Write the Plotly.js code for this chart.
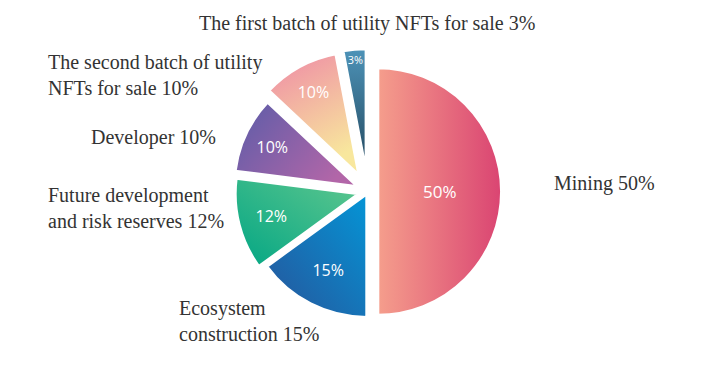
<!DOCTYPE html>
<html><head><meta charset="utf-8">
<script src="https://cdn.plot.ly/plotly-3.0.1.min.js"></script>
<style>html,body{margin:0;padding:0;background:#fff}#chart{width:720px;height:392px}</style>
</head><body><div id="chart"></div>
<script>
const categories = ["Mining", "Ecosystem construction", "Future development and risk reserves", "Developer", "The second batch of utility NFTs for sale", "The first batch of utility NFTs for sale"];
const shares = [50, 15, 12, 10, 10, 3];
const sliceColors = ["#E8717F", "#1577BA", "#17AE88", "#8261A8", "#F3B4A3", "#3A6F8F"];
const pulls = [0.08, 0.02, 0.075, 0.09, 0.15, 0.155];
const labelTexts = [
  "Mining 50%",
  "Ecosystem<br>construction 15%",
  "Future development<br>and risk reserves 12%",
  "Developer 10%",
  "The second batch of utility<br>NFTs for sale 10%",
  "The first batch of utility NFTs for sale 3%"
];
// gradient stops per slice: [x1,y1,x2,y2, startColor, endColor]
const gradients = [
  [0, 0, 1, 0, "#F59E8C", "#DA4472"],
  [0, 1, 1, 0, "#27549A", "#0495D6"],
  [0, 1, 1, 0, "#02A684", "#5FC78E"],
  [0, 0, 1, 0.6, "#5A5CA8", "#B266A8"],
  [0, 0, 0.4, 1, "#EE88A6", "#F8E79D"],
  [0, 0, 0, 1, "#4D93B8", "#22465C"]
];

const trace = {
  type: "pie",
  labels: categories,
  values: shares,
  sort: false,
  direction: "clockwise",
  rotation: 0,
  pull: pulls,
  marker: {colors: sliceColors, line: {color: "#ffffff", width: 3}},
  texttemplate: "%{value}%",
  textposition: "inside",
  insidetextorientation: "horizontal",
  textfont: {family: "Open Sans, sans-serif", color: "#ffffff", size: [17, 16, 16, 16, 16, 11]},
  hoverinfo: "label+value",
  domain: {x: [0.3125, 0.7095], y: [0.146, 0.877]},
  showlegend: false
};

const lf = {family: "Liberation Serif, serif", size: 20, color: "#333333"};
const annotations = [
  {x: 552/720, y: 1 - 183/392, xanchor: "left", yanchor: "middle", align: "left", text: labelTexts[0]},
  {x: 177/720, y: 1 - 321/392, xanchor: "left", yanchor: "middle", align: "left", text: labelTexts[1]},
  {x: 46/720, y: 1 - 208/392, xanchor: "left", yanchor: "middle", align: "left", text: labelTexts[2]},
  {x: 218/720, y: 1 - 137/392, xanchor: "right", yanchor: "middle", align: "right", text: labelTexts[3]},
  {x: 46/720, y: 1 - 75/392, xanchor: "left", yanchor: "middle", align: "left", text: labelTexts[4]},
  {x: 367/720, y: 1 - 24/392, xanchor: "center", yanchor: "middle", align: "center", text: labelTexts[5]}
].map(a => Object.assign({xref: "paper", yref: "paper", showarrow: false, font: lf}, a));

Plotly.newPlot("chart", [trace], {
  width: 720, height: 392,
  margin: {l: 0, r: 0, t: 0, b: 0},
  paper_bgcolor: "#ffffff",
  annotations: annotations
}, {displayModeBar: false, staticPlot: true}).then(function (gd) {
  const svg = gd.querySelector("svg.main-svg");
  const NS = "http://www.w3.org/2000/svg";
  let defs = svg.querySelector("defs");
  if (!defs) { defs = document.createElementNS(NS, "defs"); svg.insertBefore(defs, svg.firstChild); }
  gradients.forEach(function (g, i) {
    const lg = document.createElementNS(NS, "linearGradient");
    lg.setAttribute("id", "sliceGrad" + i);
    lg.setAttribute("x1", g[0]); lg.setAttribute("y1", g[1]);
    lg.setAttribute("x2", g[2]); lg.setAttribute("y2", g[3]);
    [[0, g[4]], [1, g[5]]].forEach(function (s) {
      const st = document.createElementNS(NS, "stop");
      st.setAttribute("offset", s[0]); st.setAttribute("stop-color", s[1]);
      lg.appendChild(st);
    });
    defs.appendChild(lg);
  });
  gd.querySelectorAll("g.slice").forEach(function (sl, i) {
    const p = sl.querySelector("path.surface");
    if (p) p.style.fill = "url(#sliceGrad" + i + ")";
  });
});
</script></body></html>
